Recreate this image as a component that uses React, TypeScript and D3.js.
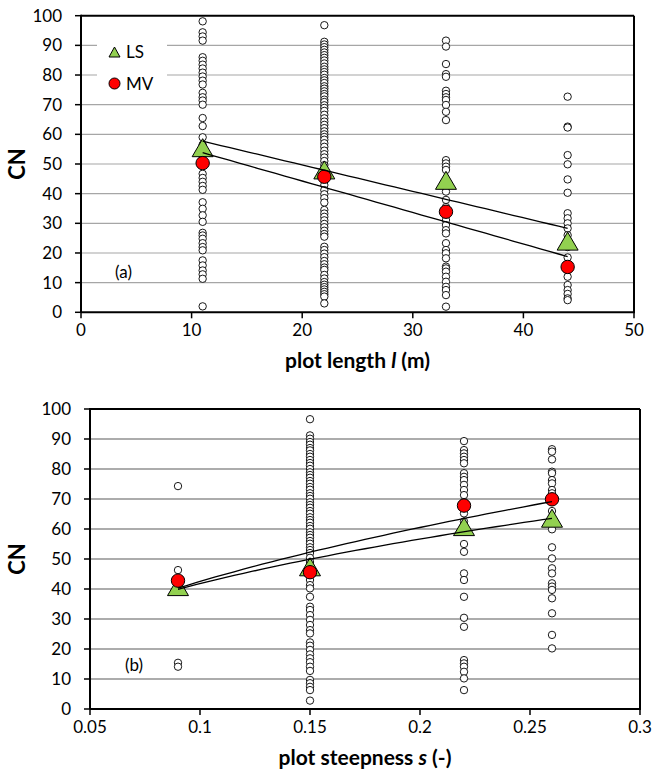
import React from "react";
import * as d3 from "d3";

const FONT = "Lato, 'Liberation Sans', sans-serif";

// ---------- Panel (a): plot length ----------
const lengthCats = [11, 22, 33, 44];
const lenPts11 = [98.1, 94.4, 93.0, 91.6, 86.0, 84.8, 83.5, 82.2, 80.8, 79.5, 78.1, 76.8, 74.0, 72.5, 71.4, 70.0, 65.5, 62.8, 59.0, 56.5, 53.0, 46.7, 45.3, 44.0, 42.6, 41.3, 37.1, 34.9, 32.7, 30.5, 26.8, 25.9, 24.8, 23.3, 22.0, 20.9, 17.5, 15.8, 14.1, 12.8, 11.3, 2.0];
const lenPts22 = [96.8, 91.2, 90.3, 89.4, 88.5, 87.6, 86.7, 85.8, 84.9, 83.9, 82.8, 81.9, 81.0, 80.1, 79.0, 78.2, 77.3, 76.2, 75.4, 74.5, 73.6, 72.8, 71.7, 70.9, 69.8, 68.9, 67.9, 66.6, 65.4, 64.3, 63.2, 62.1, 61.0, 60.0, 59.1, 58.2, 57.0, 55.8, 54.5, 53.3, 52.2, 51.0, 49.6, 47.8, 46.3, 44.5, 42.9, 41.2, 39.8, 38.5, 37.0, 34.5, 33.3, 32.2, 31.0, 29.8, 28.7, 27.5, 26.4, 25.5, 22.1, 21.0, 19.8, 18.6, 17.3, 16.2, 15.1, 14.3, 12.6, 11.4, 10.2, 9.3, 8.5, 7.7, 6.9, 6.1, 5.3, 3.0];
const lenPts33 = [91.6, 89.6, 83.7, 80.3, 79.4, 74.7, 73.6, 72.5, 71.6, 69.9, 67.6, 64.8, 51.3, 50.2, 49.1, 48.0, 44.0, 42.3, 40.7, 37.9, 35.5, 31.1, 29.4, 27.7, 26.6, 23.3, 21.0, 19.9, 18.2, 15.4, 14.8, 13.7, 12.0, 10.3, 8.6, 7.5, 5.8, 1.9];
const lenPts44 = [72.7, 62.6, 62.3, 53.0, 49.9, 44.8, 40.3, 33.4, 31.7, 30.0, 28.3, 26.0, 22.0, 18.5, 15.4, 12.0, 9.2, 7.5, 6.2, 4.7, 4.1];
const lengthLS = [55.5, 48.0, 44.5, 24.0];
const lengthMV = [50.3, 45.7, 33.9, 15.3];
const lengthTicks = [0, 10, 20, 30, 40, 50];
const lengthTickLabels = ["0", "10", "20", "30", "40", "50"];

// ---------- Panel (b): plot steepness ----------
const steepCats = [0.09, 0.15, 0.22, 0.26];
const stPts09 = [74.3, 46.3, 43.0, 40.0, 15.4, 14.1];
const stPts15 = [96.6, 91.2, 90.1, 89.0, 88.1, 87.0, 86.2, 85.0, 84.1, 83.0, 82.0, 81.1, 80.0, 78.9, 78.0, 77.1, 76.0, 75.1, 74.0, 73.1, 71.9, 71.0, 70.1, 68.9, 68.0, 67.1, 66.0, 65.1, 63.9, 63.0, 62.1, 61.0, 60.1, 58.9, 58.0, 57.1, 56.0, 55.1, 53.9, 53.0, 52.0, 50.4, 49.0, 47.4, 43.0, 41.3, 40.2, 37.4, 34.1, 33.0, 31.3, 29.7, 28.0, 26.3, 25.2, 22.2, 21.1, 19.7, 18.2, 16.9, 15.6, 14.1, 12.7, 9.7, 8.6, 7.4, 6.3, 2.8];
const stPts22 = [89.3, 86.3, 85.2, 84.1, 83.0, 81.9, 78.6, 77.4, 76.3, 74.7, 73.0, 71.3, 69.0, 67.0, 65.2, 62.5, 60.0, 55.0, 52.4, 45.2, 43.0, 37.4, 30.4, 27.4, 16.3, 15.2, 14.1, 12.4, 10.2, 6.3];
const stPts26 = [86.6, 85.8, 83.2, 79.1, 78.6, 76.3, 75.2, 73.0, 71.9, 69.5, 66.0, 63.0, 59.9, 53.9, 50.2, 46.9, 45.2, 41.9, 40.8, 39.7, 36.9, 31.9, 24.7, 20.2];
const steepLS = [40.8, 47.4, 60.8, 63.6];
const steepMV = [42.8, 45.6, 67.8, 69.9];
const steepTicks = [0.05, 0.1, 0.15, 0.2, 0.25, 0.3];
const steepTickLabels = ["0.05", "0.1", "0.15", "0.2", "0.25", "0.3"];

const cnTicks = [0, 10, 20, 30, 40, 50, 60, 70, 80, 90, 100];

// least squares fits (Excel trendlines)
function linFit(xs: number[], ys: number[]) {
  const mx = d3.mean(xs)!, my = d3.mean(ys)!;
  let sxy = 0, sxx = 0;
  xs.forEach((x, i) => { sxy += (x - mx) * (ys[i] - my); sxx += (x - mx) ** 2; });
  const b = sxy / sxx, a = my - b * mx;
  return (x: number) => a + b * x;
}
function powFit(xs: number[], ys: number[]) {
  const lx = xs.map(Math.log), ly = ys.map(Math.log);
  const f = linFit(lx, ly);
  return (x: number) => Math.exp(f(Math.log(x)));
}

function triPath(cx: number, cy: number, w: number, h: number) {
  return `M${cx},${cy - h / 2}L${cx + w / 2},${cy + h / 2}L${cx - w / 2},${cy + h / 2}Z`;
}

type PanelProps = {
  xDomain: [number, number];
  xRange: [number, number];
  yRange: [number, number];
  cats: number[];
  pts: number[][];
  ls: number[];
  mv: number[];
  fit: "lin" | "pow";
  ticks: number[];
  tickLabels: string[];
  titlePre: string;
  titleIt: string;
  titlePost: string;
  tag: string;
  tagPos: [number, number];
  gridColor: string;
  legend?: boolean;
};

function Panel(p: PanelProps) {
  const x = d3.scaleLinear().domain(p.xDomain).range(p.xRange);
  const y = d3.scaleLinear().domain([0, 100]).range(p.yRange);
  const [x0, x1] = p.xRange;
  const [yb, yt] = p.yRange;
  const fitter = p.fit === "lin" ? linFit : powFit;
  const fLS = fitter(p.cats, p.ls);
  const fMV = fitter(p.cats, p.mv);
  const xsFit = d3.range(0, 41).map((i) => p.cats[0] + (i / 40) * (p.cats[p.cats.length - 1] - p.cats[0]));
  const line = (f: (v: number) => number) =>
    d3.line<number>().x((v) => x(v)).y((v) => y(f(v)))(xsFit) || "";
  const midX = (x0 + x1) / 2;
  const midY = (yb + yt) / 2;
  return (
    <g fontFamily={FONT}>
      {cnTicks.filter((t) => t > 0 && t < 100).map((t) => (
        <line key={"g" + t} x1={x0} x2={x1} y1={y(t)} y2={y(t)} stroke={p.gridColor} strokeWidth={1.2} />
      ))}
      {p.legend && (
        <g>
          <rect x={97} y={34} width={70} height={64} fill="#fff" />
          <path d={triPath(114.5, 52, 11, 10)} fill="#92d050" stroke="#000" strokeWidth={1} />
          <text x={126} y={57.5} fontSize={17} fill="#000">LS</text>
          <circle cx={114.5} cy={83.5} r={5.5} fill="#ff0000" stroke="#000" strokeWidth={1} />
          <text x={126} y={89.5} fontSize={17} fill="#000">MV</text>
        </g>
      )}
      <line x1={x0} x2={x1} y1={yt} y2={yt} stroke="#000" strokeWidth={2} />
      <line x1={x1} x2={x1} y1={yt} y2={yb} stroke="#000" strokeWidth={2} />
      <line x1={x0} x2={x0} y1={yt - 1} y2={yb} stroke="#000" strokeWidth={2} />
      <line x1={x0} x2={x1 + 1} y1={yb} y2={yb} stroke="#000" strokeWidth={2} />
      {cnTicks.map((t) => (
        <g key={"y" + t}>
          <line x1={x0 - 6} x2={x0} y1={y(t)} y2={y(t)} stroke="#000" strokeWidth={1.5} />
          <text x={x0 - 19} y={y(t)} dy="0.36em" textAnchor="end" fontSize={17} fill="#000">{t}</text>
        </g>
      ))}
      {p.ticks.map((t, i) => (
        <g key={"x" + t}>
          <line x1={x(t)} x2={x(t)} y1={yb} y2={yb + 6} stroke="#000" strokeWidth={1.5} />
          <text x={x(t)} y={yb + 24} textAnchor="middle" fontSize={17} fill="#000">{p.tickLabels[i]}</text>
        </g>
      ))}
      <text x={midX} y={yb + 56} textAnchor="middle" fontSize={21} fontWeight="bold" fill="#000">
        {p.titlePre}
        <tspan fontStyle="italic">{p.titleIt}</tspan>
        {p.titlePost}
      </text>
      <text transform={`translate(25,${midY}) rotate(-90)`} textAnchor="middle" fontSize={22} fontWeight="bold" fill="#000">CN</text>
      <text x={p.tagPos[0]} y={p.tagPos[1]} dy="0.36em" textAnchor="end" fontSize={17} fill="#000">{p.tag}</text>
      {p.pts.map((col, ci) =>
        col.map((v, i) => (
          <circle key={`p${ci}-${i}`} cx={x(p.cats[ci])} cy={y(v)} r={3.7} fill="#fff" stroke="#000" strokeWidth={0.9} />
        ))
      )}
      {p.ls.map((v, i) => (
        <path key={"t" + i} d={triPath(x(p.cats[i]), y(v), 21, 18)} fill="#92d050" stroke="#000" strokeWidth={1} />
      ))}
      {p.mv.map((v, i) => (
        <circle key={"m" + i} cx={x(p.cats[i])} cy={y(v)} r={6.7} fill="#ff0000" stroke="#000" strokeWidth={1} />
      ))}
      <path d={line(fLS)} fill="none" stroke="#000" strokeWidth={1.3} />
      <path d={line(fMV)} fill="none" stroke="#000" strokeWidth={1.3} />
    </g>
  );
}

export default function App() {
  return (
    <svg width={656} height={783} style={{ position: "absolute", left: 0, top: 0, background: "#fff" }}>
      <rect x={0} y={0} width={656} height={783} fill="#fff" />
      <Panel
        xDomain={[0, 50]}
        xRange={[81, 634]}
        yRange={[312.3, 15.7]}
        cats={lengthCats}
        pts={[lenPts11, lenPts22, lenPts33, lenPts44]}
        ls={lengthLS}
        mv={lengthMV}
        fit="lin"
        ticks={lengthTicks}
        tickLabels={lengthTickLabels}
        titlePre="plot length "
        titleIt="l"
        titlePost=" (m)"
        tag="(a)"
        tagPos={[132, 272]}
        gridColor="#a6a6a6"
        legend
      />
      <Panel
        xDomain={[0.05, 0.3]}
        xRange={[90, 640]}
        yRange={[709, 409]}
        cats={steepCats}
        pts={[stPts09, stPts15, stPts22, stPts26]}
        ls={steepLS}
        mv={steepMV}
        fit="pow"
        ticks={steepTicks}
        tickLabels={steepTickLabels}
        titlePre="plot steepness "
        titleIt="s"
        titlePost=" (-)"
        tag="(b)"
        tagPos={[143, 665]}
        gridColor="#5a5a5a"
      />
    </svg>
  );
}
